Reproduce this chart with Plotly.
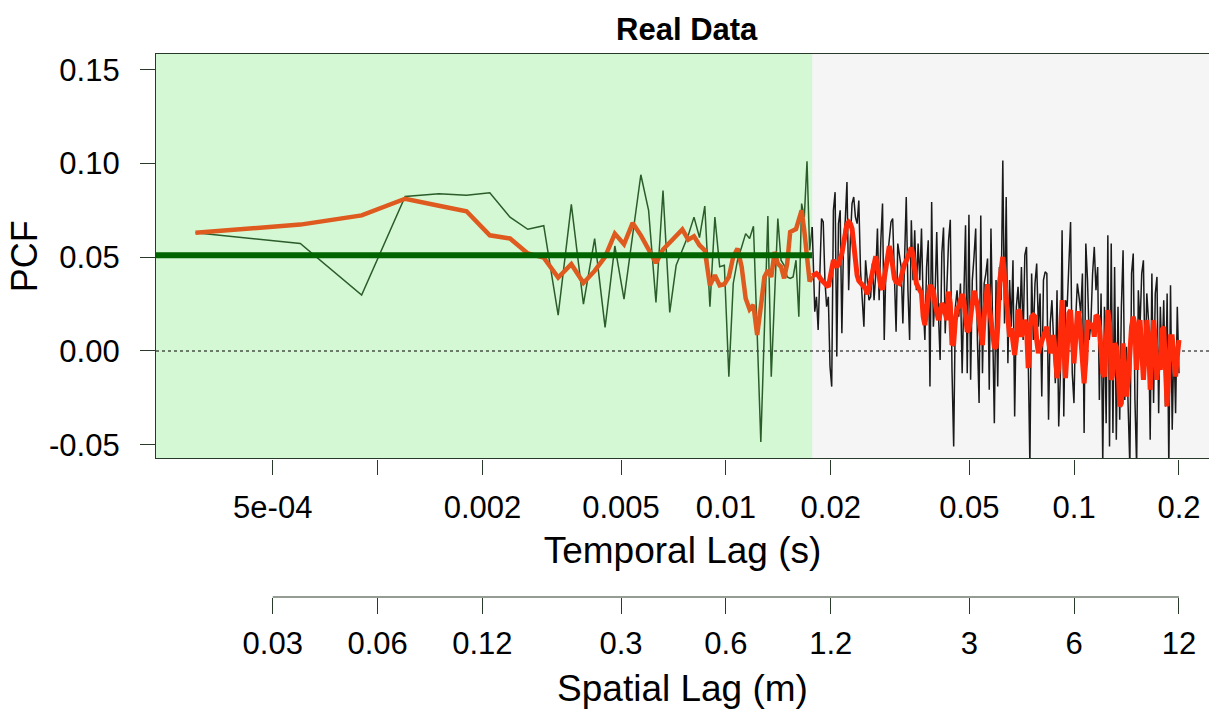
import numpy as np
import plotly.graph_objects as go

# ---------------- data ----------------
DT = 0.0003                      # sampling step of the temporal lag (s)
SPEED = 60.0                     # spatial lag = SPEED * temporal lag (m)
BOUNDARY = 0.0177                # end of the highlighted (green) lag window (s)
MEAN_PCF = 0.051                 # mean PCF inside the green window

# raw PCF inside the green window (lags k*DT, k = 1..59)
PCF_NEAR = [0.0631, 0.0573, 0.0298, 0.0824, 0.0839, 0.083, 0.0844, 0.0714, 0.0649, 0.0668,
            0.0191, 0.0782, 0.025, 0.0599, 0.0126, 0.056, 0.0277, 0.0608, 0.094, 0.075,
            0.0259, 0.0856, 0.0206, 0.0457, 0.0537, 0.0617, 0.0714, 0.0605, 0.0773, 0.0236,
            0.0714, 0.0449, 0.0457, -0.0137, 0.036, 0.0484, 0.0555, 0.0626, 0.06, 0.0665,
            0.0094, -0.0486, 0.0112, 0.072, -0.0137, 0.0289, 0.0706, 0.0484, 0.0457, 0.0395,
            0.0387, 0.0395, 0.0484, 0.0183, 0.0786, 0.0714, 0.1012, 0.0537, 0.0661]

# smoothed PCF inside the green window
SMOOTH_NEAR = [0.0631, 0.0674, 0.0723, 0.0812, 0.0775, 0.0745, 0.0617, 0.060, 0.052, 0.0498,
               0.0392, 0.0463, 0.0363, 0.0427, 0.0502, 0.0626, 0.0569, 0.0683, 0.0617, 0.0537,
               0.047, 0.0541, 0.058, 0.0615, 0.0648, 0.0594, 0.0612, 0.0564, 0.0537, 0.035,
               0.0404, 0.035, 0.0356, 0.0395, 0.0502, 0.0546, 0.0449, 0.028, 0.0222, 0.0245,
               0.0085, 0.0236, 0.0395, 0.043, 0.0395, 0.0528, 0.0466, 0.0449, 0.0387, 0.0466,
               0.0635, 0.0643, 0.065, 0.070, 0.075, 0.064, 0.048, 0.037, 0.040]

# raw PCF beyond the window (log-spaced lags from 0.018 s to 0.2 s)
PCF_FAR = [0.0209, 0.0289, 0.0112, 0.0413, 0.0706, 0.0688, 0.0378, 0.0236, 0.0289, -0.0083,
           -0.019, 0.075, 0.0847, -0.003, 0.0679, 0.075, 0.0094, 0.059, 0.0697, 0.0901,
           0.0324, 0.059, 0.0786, 0.0821, 0.0714, 0.0679, 0.0803, 0.0431, 0.0271, 0.0129,
           0.0484, 0.036, 0.0271, 0.0289, 0.0466, 0.0271, 0.0413, 0.0653, 0.0271, 0.059,
           0.0786, 0.0059, 0.0448, 0.0502, 0.059, 0.0688, 0.0706, 0.0448, 0.0103, 0.0573,
           0.0511, 0.0448, 0.0147, 0.0484,
           0.0821, 0.0324, 0.0059, 0.0697, 0.0378, 0.0644, 0.0324, 0.0573, 0.0378, 0.0653,
           0.0254, 0.0059, 0.0448, 0.059, -0.019, 0.0794, 0.0129, 0.0289, 0.0635, 0.02,
           -0.0048, 0.052, 0.0658, 0.0094, 0.0378, 0.059, 0.07, -0.0101, -0.0509, 0.0236,
           0.0324, 0.0183, 0.036, -0.0119, 0.0289, 0.067, -0.0119, 0.0727, -0.0154, 0.0378,
           0.0502, 0.0653, 0.0059, -0.0278, 0.0723, -0.0119, 0.036, 0.0413, 0.0493, -0.0207,
           0.0653, 0.0059, -0.0385, 0.0378, -0.019, 0.0448,
           0.0271, 0.1016, 0.0147, 0.0821, -0.0066, 0.0378, 0.0129, 0.0484, -0.0349, 0.0236,
           0.0342, 0.0147, 0.0448, 0.0059, 0.0511, 0.0555, -0.019, -0.062, 0.0413, 0.0059,
           0.036, 0.0466, 0.0129, 0.0307, -0.0243, 0.0378, 0.0422, 0.0413, -0.0367, 0.0147,
           0.0271, 0.0059, -0.0172, 0.0324, -0.0403, -0.0119, 0.0644, -0.0349, 0.0271, 0.0236,
           0.0484, 0.0688, -0.0119, -0.0278, 0.0165, 0.036, 0.0289, 0.02, 0.0413, -0.0438,
           0.0573, 0.0378, 0.0059, 0.0147, 0.0413, 0.0555,
           0.0324, 0.0448, -0.0261, 0.0307, -0.060, 0.0236, -0.0385, 0.0617, -0.0509, 0.0573,
           -0.0438, 0.0448, -0.0473, 0.0236, -0.0367, 0.0236, 0.0537, -0.0261, 0.0023, -0.0403,
           -0.062, 0.0413, 0.052, -0.0261, -0.062, 0.0324, 0.0129, 0.0413, 0.0484, -0.0119,
           0.0307, 0.0165, -0.0473, 0.0413, -0.0278, 0.0307, 0.0395, -0.0332, 0.0236, -0.0083,
           0.0271, -0.0296, 0.0307, -0.062, 0.0351, -0.042, 0.0059, -0.0332, 0.0236, -0.0119]

# smoothed PCF beyond the window
SMOOTH_FAR = [0.041, 0.0413, 0.0404, 0.0387, 0.0378, 0.0369, 0.036, 0.0351, 0.0342, 0.0387,
              0.0431, 0.0484, 0.047, 0.0448, 0.0463, 0.0484, 0.052, 0.0573, 0.0626, 0.0676,
              0.0688, 0.0679, 0.0653, 0.0555, 0.0457, 0.0404, 0.0374, 0.0363, 0.0356, 0.0346,
              0.0333, 0.0303, 0.0333, 0.0374, 0.0417, 0.0466, 0.0505, 0.0452, 0.0378, 0.0342,
              0.0328, 0.0378, 0.0431, 0.0511, 0.0559, 0.052, 0.0431, 0.0387, 0.0369, 0.036,
              0.036, 0.0395, 0.044, 0.0463,
              0.048, 0.0502, 0.0523, 0.0551, 0.0511, 0.0395, 0.036, 0.0342, 0.0324, 0.0307,
              0.0183, 0.0138, 0.0218, 0.0289, 0.0351, 0.0339, 0.0324, 0.0254, 0.0191, 0.0165,
              0.02, 0.0254, 0.0239, 0.0183, 0.0165, 0.0316, 0.0254, 0.0032, 0.0041, 0.0165,
              0.0227, 0.0236, 0.0271, 0.0303, 0.0271, 0.02, 0.0103, 0.0112, 0.02, 0.0289,
              0.0321, 0.028, 0.0245, 0.0165, 0.0076, 0.0032, 0.0183, 0.0289, 0.0356, 0.0236,
              0.0165, 0.0121, 0.0023, 0.0014, 0.0129, 0.036,
              0.0448, 0.0502, 0.0395, 0.0271, 0.0129, 0.0076, 0.0121, 0.0041, -0.0021, 0.0059,
              0.0218, 0.0209, 0.0076, 0.0121, 0.0165, 0.0133, -0.0092, 0.0121, 0.0183, 0.0191,
              0.0183, 0.0059, -0.0012, 0.0023, 0.0059, 0.008, 0.0103, 0.0129, 0.0059, -0.0012,
              0.0023, 0.0085, -0.0021, -0.0145, -0.0092, 0.0129, 0.0271, 0.0023, -0.0145, 0.0005,
              0.02, 0.0218, 0.0059, -0.0066, 0.0059, 0.02, 0.02, 0.0059, -0.0101, -0.0172,
              -0.0048, 0.0165, 0.0129, 0.0129, 0.0147, 0.0076,
              0.0191, 0.0183, 0.0129, -0.003, -0.0119, -0.0137, 0.0129, 0.0218, 0.0147, -0.0154,
              -0.0119, 0.0041, 0.0023, -0.0066, -0.0296, -0.0278, 0.0041, -0.0119, -0.0243, -0.0154,
              0.0041, 0.0129, 0.0183, 0.0138, -0.0101, 0.0112, 0.0165, -0.0012, -0.0154, -0.0012,
              0.0165, 0.0059, -0.0207, -0.003, 0.0165, 0.0059, -0.0154, -0.003, -0.0101, 0.0112,
              0.0129, -0.0083, -0.0296, -0.0083, 0.0076, 0.0076, -0.0083, -0.0137, -0.003, 0.0059]

T_TICKS = [5e-4, 0.001, 0.002, 0.005, 0.01, 0.02, 0.05, 0.1, 0.2]
T_TICKTEXT = ["5e-04", "", "0.002", "0.005", "0.01", "0.02", "0.05", "0.1", "0.2"]
S_TICKS = [0.03, 0.06, 0.12, 0.3, 0.6, 1.2, 3, 6, 12]
S_TICKTEXT = ["0.03", "0.06", "0.12", "0.3", "0.6", "1.2", "3", "6", "12"]
Y_TICKS = [-0.05, 0.0, 0.05, 0.10, 0.15]
Y_TICKTEXT = ["-0.05", "0.00", "0.05", "0.10", "0.15"]

# ---------------- grids ----------------
lag_near = DT * np.arange(1, len(PCF_NEAR) + 1)
lag_far = np.geomspace(0.0180, 0.2, len(PCF_FAR))

X_LO, X_HI = -3.6362, -0.6128          # log10 range of temporal axis
Y_LO, Y_HI = -0.0573, 0.1584
S_OFF = np.log10(SPEED)


def dom(v):
    return (np.log10(v) - X_LO) / (X_HI - X_LO)


FONT = "Liberation Sans, Arial, Helvetica, sans-serif"
AXCOL = "#2a3a2a"

fig = go.Figure()

fig.add_trace(go.Scatter(x=lag_near, y=PCF_NEAR, mode="lines",
                         line=dict(color="#2b5d2b", width=1.5), hoverinfo="skip"))
fig.add_trace(go.Scatter(x=np.r_[lag_near[-1], lag_far], y=np.r_[PCF_NEAR[-1], PCF_FAR],
                         mode="lines", line=dict(color="#1a1a1a", width=1.5), hoverinfo="skip"))
fig.add_trace(go.Scatter(x=lag_near, y=SMOOTH_NEAR, mode="lines",
                         line=dict(color="#de5a1e", width=4.5), hoverinfo="skip"))
fig.add_trace(go.Scatter(x=np.r_[lag_near[-1], lag_far], y=np.r_[SMOOTH_NEAR[-1], SMOOTH_FAR],
                         mode="lines", line=dict(color="#ff2a0a", width=5), hoverinfo="skip"))
fig.add_trace(go.Scatter(x=[10 ** X_LO * 0.9, BOUNDARY], y=[MEAN_PCF, MEAN_PCF], mode="lines",
                         line=dict(color="#006400", width=6), hoverinfo="skip"))
# carrier for the spatial axis
fig.add_trace(go.Scatter(x=[S_TICKS[0], S_TICKS[-1]], y=[None, None], xaxis="x2", yaxis="y",
                         mode="lines", hoverinfo="skip"))

shapes = [
    dict(type="rect", xref="x domain", yref="y domain", x0=0, x1=dom(BOUNDARY), y0=0, y1=1,
         fillcolor="#d4f7d4", line=dict(width=0), layer="below"),
    dict(type="line", xref="x domain", yref="y", x0=0, x1=1, y0=0, y1=0,
         line=dict(color="black", width=1.2, dash="3px,3px"), layer="below"),
    dict(type="line", xref="paper", yref="paper", x0=dom(T_TICKS[0]), x1=dom(T_TICKS[-1]),
         y0=0, y1=0, line=dict(color=AXCOL, width=1.2)),
]

TOP, BOT_AX = 53.5, 597.3
H = 711
plot_bottom = 458.5
ydom0 = (BOT_AX - plot_bottom) / (BOT_AX - TOP)

fig.update_layout(
    width=1209, height=711,
    margin=dict(l=156.3, r=0, t=TOP, b=H - BOT_AX, pad=0),
    paper_bgcolor="white", plot_bgcolor="#f5f5f5",
    showlegend=False,
    font=dict(family=FONT, color="black"),
    title=dict(text="<b>Real Data</b>", font=dict(size=31, family=FONT, color="black"),
               x=0.504, xref="paper", xanchor="center",
               y=1 - 29 / H, yref="container", yanchor="middle"),
    shapes=shapes,
    xaxis=dict(type="log", range=[X_LO, X_HI], domain=[0, 1], anchor="y",
               tickvals=T_TICKS, ticktext=T_TICKTEXT, ticks="outside", ticklen=15,
               tickwidth=1.2, tickcolor=AXCOL, showline=True, linecolor=AXCOL, linewidth=1.2,
               mirror=True, showgrid=False, zeroline=False,
               tickfont=dict(size=31), ticklabelstandoff=6,
               title=dict(text="Temporal Lag (s)", font=dict(size=37), standoff=13)),
    xaxis2=dict(type="log", range=[X_LO + S_OFF, X_HI + S_OFF], overlaying="x",
                anchor="free", position=0, side="bottom",
                tickvals=S_TICKS, ticktext=S_TICKTEXT, ticks="outside", ticklen=16,
                tickwidth=1.2, tickcolor=AXCOL, showline=False, showgrid=False, zeroline=False,
                tickfont=dict(size=31), ticklabelstandoff=3,
                title=dict(text="Spatial Lag (m)", font=dict(size=37), standoff=14)),
    yaxis=dict(range=[Y_LO, Y_HI], domain=[ydom0, 1], anchor="x",
               tickvals=Y_TICKS, ticktext=Y_TICKTEXT, ticks="outside", ticklen=15,
               tickwidth=1.2, tickcolor=AXCOL, showline=True, linecolor=AXCOL, linewidth=1.2,
               mirror=True, showgrid=False, zeroline=False,
               tickfont=dict(size=31), ticklabelstandoff=14,
               title=dict(text="PCF", font=dict(size=36), standoff=0)),
)

fig.write_html("out.html",
               config={"displayModeBar": False},
               post_script="document.body.style.margin='0';"
                           "document.documentElement.style.overflow='hidden';")
